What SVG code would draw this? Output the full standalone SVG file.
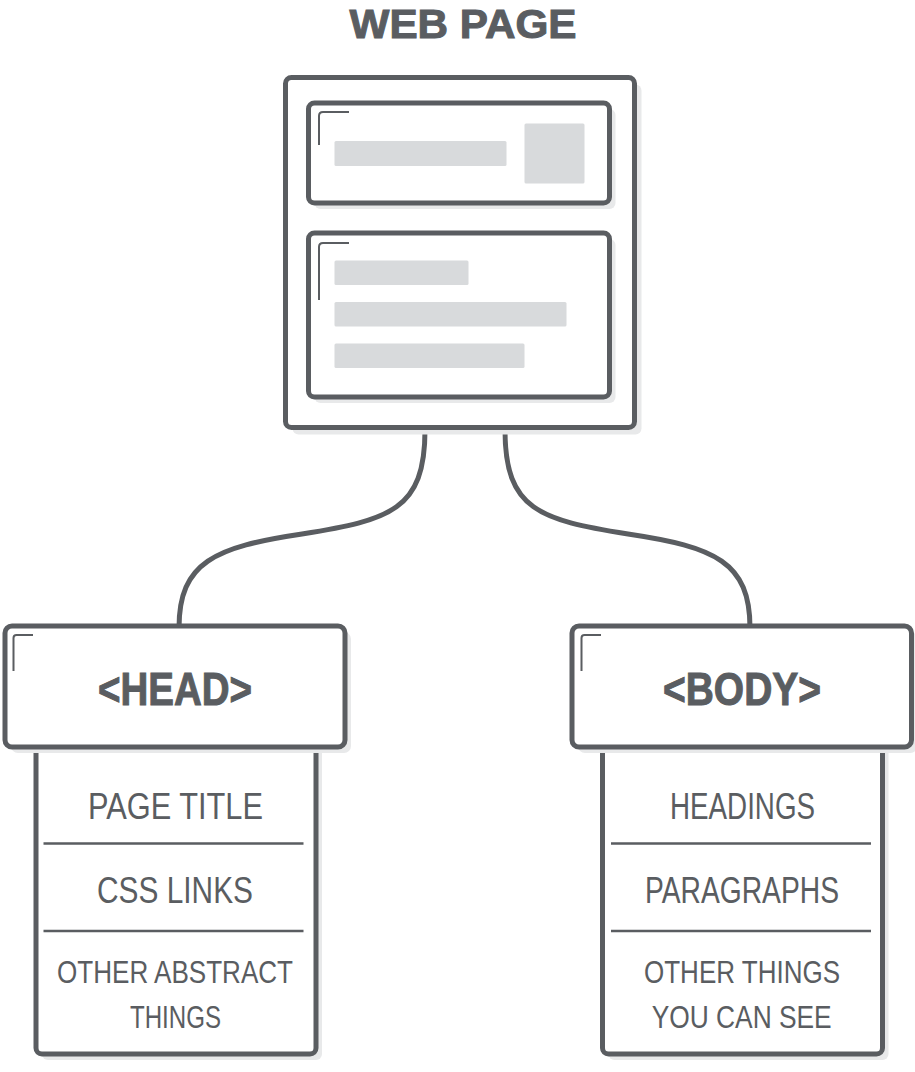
<svg xmlns="http://www.w3.org/2000/svg" width="915" height="1072" viewBox="0 0 915 1072">
<style>
.bx{fill:#fff;stroke:#5a5d61;stroke-width:5}
.sh{fill:#e8e9ea}
.bar{fill:#d8dadc}
.mk{fill:none;stroke:#5a5d61;stroke-width:2;stroke-linejoin:round}
.sep{stroke:#5a5d61;stroke-width:2.5}
.con{fill:none;stroke:#5a5d61;stroke-width:5}
.bold{font-family:"Liberation Sans",Arial,sans-serif;font-weight:bold;fill:#5a5d61;stroke:#5a5d61;stroke-width:1;text-anchor:middle}
.thin{font-family:"Liberation Sans",Arial,sans-serif;font-weight:normal;fill:#5a5d61;text-anchor:middle}
</style>
<rect width="915" height="1072" fill="#fff"/>
<g id="title"><text class="bold" x="463" y="38" font-size="40" textLength="227" lengthAdjust="spacingAndGlyphs">WEB PAGE</text></g>
<g id="connectors">
<path class="con" d="M425,430 C425,510 390,520 302,534 C215,547 179,562 179,628"/>
<path class="con" d="M505,430 C505,510 540,520 628,534 C715,547 750,562 750,628"/>
</g>
<g id="webpage">
<rect class="sh" x="292.5" y="84.5" width="349" height="350" rx="6"/>
<rect class="bx" x="285.5" y="77.5" width="349" height="350" rx="6"/>
<rect class="sh" x="314.5" y="109" width="301" height="100" rx="6"/>
<rect class="bx" x="308.5" y="103" width="301" height="100" rx="6"/>
<path class="mk" d="M319,145 V116 Q319,112 323,112 H349"/>
<rect class="bar" x="334.5" y="141" width="172" height="25" rx="1.5"/>
<rect class="bar" x="524.5" y="123.5" width="60" height="60" rx="1.5"/>
<rect class="sh" x="314.5" y="239" width="301" height="164" rx="6"/>
<rect class="bx" x="308.5" y="233" width="301" height="164" rx="6"/>
<path class="mk" d="M319,300 V247 Q319,243 323,243 H349"/>
<rect class="bar" x="334.5" y="260.5" width="134" height="24.5" rx="1.5"/>
<rect class="bar" x="334.5" y="302" width="232" height="24.5" rx="1.5"/>
<rect class="bar" x="334.5" y="343.5" width="190" height="24.5" rx="1.5"/>
</g>
<g id="head">
<rect class="sh" x="42" y="746" width="280" height="314" rx="6"/>
<rect class="bx" x="36" y="740" width="280" height="314" rx="6"/>
<rect class="sh" x="11" y="632" width="340" height="121" rx="7"/>
<rect class="bx" x="5" y="626" width="340" height="121" rx="7"/>
<path class="mk" d="M13.5,671 V638 Q13.5,635 16.5,635 H33"/>
<text class="bold" x="175" y="705" font-size="46" textLength="154" lengthAdjust="spacingAndGlyphs">&lt;HEAD&gt;</text>
<line class="sep" x1="43.5" y1="843.5" x2="303.5" y2="843.5"/>
<line class="sep" x1="43.5" y1="931" x2="303.5" y2="931"/>
<text class="thin" x="175.5" y="819" font-size="37" textLength="175" lengthAdjust="spacingAndGlyphs">PAGE TITLE</text>
<text class="thin" x="175" y="902.5" font-size="37" textLength="156" lengthAdjust="spacingAndGlyphs">CSS LINKS</text>
<text class="thin" x="175" y="982.5" font-size="32" textLength="236" lengthAdjust="spacingAndGlyphs">OTHER ABSTRACT</text>
<text class="thin" x="175.5" y="1028" font-size="32" textLength="91" lengthAdjust="spacingAndGlyphs">THINGS</text>
</g>
<g id="body">
<rect class="sh" x="608.5" y="746" width="280" height="314" rx="6"/>
<rect class="bx" x="602.5" y="740" width="280" height="314" rx="6"/>
<rect class="sh" x="578" y="632" width="339.5" height="121" rx="7"/>
<rect class="bx" x="572" y="626" width="339.5" height="121" rx="7"/>
<path class="mk" d="M581.5,671 V638 Q581.5,635 584.5,635 H601"/>
<text class="bold" x="742" y="705" font-size="46" textLength="158" lengthAdjust="spacingAndGlyphs">&lt;BODY&gt;</text>
<line class="sep" x1="611" y1="843.5" x2="871" y2="843.5"/>
<line class="sep" x1="611" y1="931" x2="871" y2="931"/>
<text class="thin" x="742.5" y="819" font-size="37" textLength="145" lengthAdjust="spacingAndGlyphs">HEADINGS</text>
<text class="thin" x="742" y="902.5" font-size="37" textLength="194" lengthAdjust="spacingAndGlyphs">PARAGRAPHS</text>
<text class="thin" x="742" y="982.5" font-size="32" textLength="196" lengthAdjust="spacingAndGlyphs">OTHER THINGS</text>
<text class="thin" x="741.7" y="1028" font-size="32" textLength="180" lengthAdjust="spacingAndGlyphs">YOU CAN SEE</text>
</g>
</svg>
